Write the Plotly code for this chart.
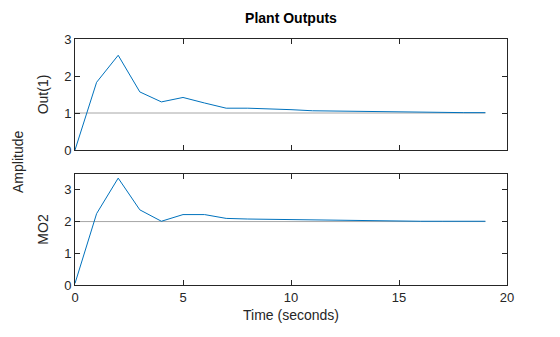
import plotly.graph_objects as go
from plotly.subplots import make_subplots

time = list(range(20))
out1 = [0.0, 1.83, 2.56, 1.57, 1.30, 1.42, 1.27, 1.13, 1.13, 1.12, 1.09, 1.06, 1.05, 1.04, 1.03, 1.02, 1.02, 1.01, 1.01, 1.01]
mo2 = [0.05, 2.25, 3.37, 2.37, 2.01, 2.22, 2.22, 2.10, 2.08, 2.07, 2.05, 2.04, 2.03, 2.02, 2.02, 2.02, 2.01, 2.01, 2.01, 2.01]
ref1 = [1.0] * 20
ref2 = [2.0] * 20

fig = make_subplots(rows=2, cols=1, shared_xaxes=True, vertical_spacing=0.1)
gray = "#a6a6a6"
blue = "#0072BD"
fig.add_trace(go.Scatter(x=time, y=ref1, mode="lines", line=dict(color=gray, width=1)), row=1, col=1)
fig.add_trace(go.Scatter(x=time, y=out1, mode="lines", line=dict(color=blue, width=1)), row=1, col=1)
fig.add_trace(go.Scatter(x=time, y=ref2, mode="lines", line=dict(color=gray, width=1)), row=2, col=1)
fig.add_trace(go.Scatter(x=time, y=mo2, mode="lines", line=dict(color=blue, width=1)), row=2, col=1)

font = "Liberation Sans, Arial, sans-serif"
tc = "#262626"
axis_common = dict(showgrid=False, zeroline=False, showline=True, linecolor=tc, linewidth=1,
                   mirror="ticks", ticks="inside", ticklen=5, tickcolor=tc,
                   tickfont=dict(size=13, color=tc, family=font))
fig.update_xaxes(range=[0, 20], tickvals=[0, 5, 10, 15, 20], **axis_common)
fig.update_xaxes(showticklabels=False, row=1, col=1)
fig.update_xaxes(title=dict(text="Time (seconds)", font=dict(size=14, color=tc, family=font), standoff=6), row=2, col=1)
fig.update_yaxes(**axis_common)
fig.update_yaxes(range=[0, 3], tickvals=[0, 1, 2, 3], domain=[135 / 246, 1],
                 title=dict(text="Out(1)", font=dict(size=14, color=tc, family=font), standoff=12), row=1, col=1)
fig.update_yaxes(range=[0, 3.5], tickvals=[0, 1, 2, 3], domain=[0, 111 / 246],
                 title=dict(text="MO2", font=dict(size=14, color=tc, family=font), standoff=12), row=2, col=1)

fig.update_layout(
    width=560, height=337, showlegend=False,
    paper_bgcolor="white", plot_bgcolor="white",
    margin=dict(l=75, r=53, t=39, b=52),
    title=dict(text="<b>Plant Outputs</b>", x=291 / 560, xanchor="center",
               y=1 - 18 / 337, yanchor="middle", font=dict(size=14, color="#000000", family=font)),
    annotations=[dict(text="Amplitude", x=-57 / 432, y=0.5, xref="paper", yref="paper", showarrow=False,
                      xanchor="center", yanchor="middle",
                      textangle=-90, font=dict(size=14, color=tc, family=font))],
)
fig.write_html("out.html")
